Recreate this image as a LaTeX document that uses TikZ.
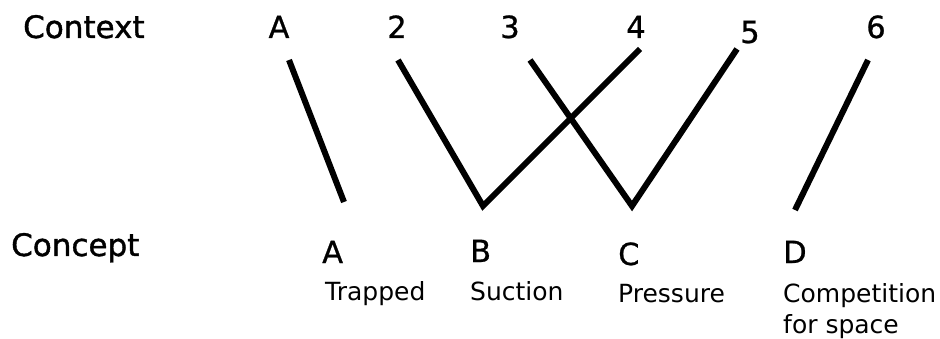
\documentclass[tikz,border=0pt]{standalone}
\usepackage{fontspec}
\setmainfont{DejaVu Sans}
\newfontfamily\headfont[FakeBold=1.2]{DejaVu Sans}
\newfontfamily\labfont[FakeBold=0.8]{DejaVu Sans}
\begin{document}
\begin{tikzpicture}[x=1pt,y=-1pt,
  big/.style={font=\labfont\fontsize{30.5}{36}\selectfont, inner sep=0pt, anchor=base},
  bigl/.style={font=\labfont\fontsize{30.5}{36}\selectfont, inner sep=0pt, anchor=base west},
  head/.style={font=\headfont\fontsize{31}{36}\selectfont, inner sep=0pt, anchor=base west},
  small/.style={font=\fontsize{25}{31}\selectfont, inner sep=0pt, anchor=base west},
  link/.style={line width=6pt, line join=miter}]
\useasboundingbox (0,0) rectangle (940,339);
% headings
\node[head] (context) at (23,38) {Context};
\node[head] (concept) at (11,256) {Concept};
% context labels
\node[big] (cA) at (279,38) {A};
\node[big] (c2) at (397,38) {2};
\node[big] (c3) at (510,38) {3};
\node[big] (c4) at (636,38) {4};
\node[big] (c5) at (750,43) {5};
\node[big] (c6) at (876,38) {6};
% concept labels
\node[bigl] (kA) at (322,263) {A};
\node[small] (kAt) at (325,300) {Trapped};
\node[bigl] (kB) at (470,262) {B};
\node[small] (kBt) at (470,300) {Suction};
\node[bigl] (kC) at (618,265) {C};
\node[small] (kCt) at (618,302) {Pressure};
\node[bigl] (kD) at (783,263) {D};
\node[small] (kDt) at (783,302) {Competition};
\node[small] (kDt2) at (783,333) {for space};
% connector ends
\coordinate (tA) at (289,60);
\coordinate (bA) at (344,202);
\coordinate (t2) at (398,60);
\coordinate (vB) at (483,206);
\coordinate (t4) at (640,49);
\coordinate (t3) at (530,60);
\coordinate (vC) at (632,206);
\coordinate (t5) at (737,49);
\coordinate (t6) at (868,60);
\coordinate (bD) at (795,210);
% connectors
\draw[link] (tA) -- (bA);
\draw[link] (t2) -- (vB) -- (t4);
\draw[link] (t3) -- (vC) -- (t5);
\draw[link] (t6) -- (bD);
\end{tikzpicture}
\end{document}
